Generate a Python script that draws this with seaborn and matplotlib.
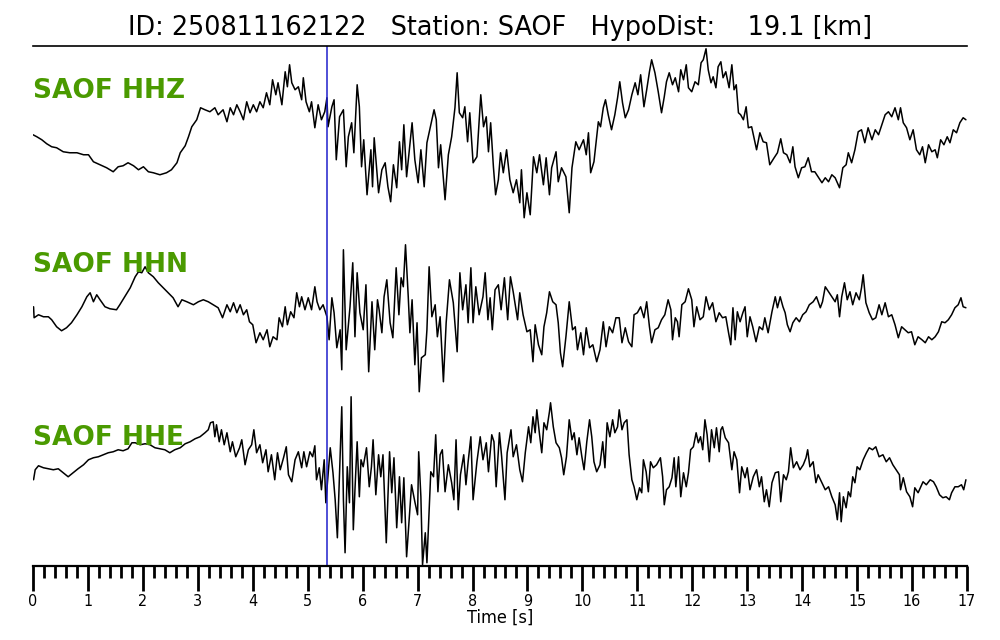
import numpy as np
import pandas as pd
import matplotlib
matplotlib.use("Agg")
import matplotlib.pyplot as plt
import seaborn as sns
from matplotlib.ticker import MultipleLocator

# ===== DATA =====
station = "SAOF"
event_id = "250811162122"
hypo_dist = 19.1
p_pick = 5.35  # s

hhz_t = [0.00, 0.07, 0.16, 0.25, 0.34, 0.43, 0.55, 0.67, 0.80, 0.92, 1.01, 1.10, 1.22, 1.34, 1.46, 1.55, 1.64, 1.73, 1.83, 1.92,
         2.01, 2.10, 2.19, 2.31, 2.43, 2.52, 2.62, 2.68, 2.77, 2.83, 2.89, 2.98, 3.05, 3.13, 3.22, 3.31, 3.37, 3.46, 3.53, 3.59,
         3.65, 3.71, 3.77, 3.83, 3.89, 3.95, 4.01, 4.07, 4.13, 4.19, 4.25, 4.31, 4.36, 4.42, 4.46, 4.53, 4.59, 4.63, 4.67, 4.71,
         4.77, 4.83, 4.89, 4.92, 4.97, 5.03, 5.07, 5.13, 5.19, 5.25, 5.31, 5.35, 5.37, 5.44, 5.48, 5.52, 5.58, 5.65, 5.70, 5.74,
         5.80, 5.84, 5.90, 5.94, 5.98, 6.02, 6.08, 6.15, 6.18, 6.21, 6.29, 6.35, 6.41, 6.46, 6.51, 6.56, 6.62, 6.67, 6.71, 6.75,
         6.80, 6.85, 6.90, 6.95, 7.01, 7.06, 7.12, 7.17, 7.24, 7.30, 7.34, 7.38, 7.42, 7.50, 7.56, 7.62, 7.68, 7.72, 7.76, 7.82,
         7.86, 7.91, 7.95, 8.01, 8.08, 8.15, 8.20, 8.25, 8.29, 8.33, 8.38, 8.42, 8.47, 8.51, 8.56, 8.62, 8.68, 8.74, 8.80, 8.86,
         8.89, 8.94, 8.99, 9.05, 9.11, 9.17, 9.22, 9.29, 9.34, 9.40, 9.44, 9.52, 9.56, 9.62, 9.70, 9.76, 9.81, 9.88, 9.94, 10.02,
         10.07, 10.11, 10.15, 10.21, 10.29, 10.33, 10.38, 10.42, 10.47, 10.53, 10.59, 10.64, 10.68, 10.73, 10.78, 10.84, 10.90, 10.96, 11.01, 11.06,
         11.12, 11.17, 11.22, 11.26, 11.32, 11.38, 11.44, 11.49, 11.53, 11.58, 11.64, 11.69, 11.75, 11.79, 11.84, 11.89, 11.93, 11.99, 12.05, 12.11,
         12.16, 12.20, 12.25, 12.29, 12.34, 12.38, 12.43, 12.47, 12.52, 12.56, 12.61, 12.67, 12.72, 12.76, 12.80, 12.84, 12.88, 12.93, 12.98, 13.02,
         13.08, 13.12, 13.17, 13.23, 13.29, 13.35, 13.41, 13.49, 13.55, 13.61, 13.66, 13.72, 13.78, 13.83, 13.87, 13.93, 13.99, 14.05, 14.11, 14.17,
         14.23, 14.29, 14.36, 14.42, 14.48, 14.54, 14.60, 14.68, 14.74, 14.80, 14.84, 14.90, 14.96, 15.02, 15.08, 15.14, 15.20, 15.27, 15.33, 15.39,
         15.45, 15.51, 15.57, 15.63, 15.69, 15.75, 15.79, 15.84, 15.90, 15.96, 16.02, 16.08, 16.14, 16.19, 16.24, 16.30, 16.36, 16.42, 16.46, 16.52,
         16.58, 16.64, 16.69, 16.75, 16.81, 16.87, 16.93, 16.98]
hhz_a = [-5, -7, -10, -14, -17, -18, -22, -23, -23, -25, -25, -32, -35, -38, -42, -37, -36, -33, -36, -40,
         -37, -42, -43, -45, -43, -40, -33, -23, -16, -7, 3, 10, 22, 20, 18, 22, 15, 20, 8, 22,
         15, 25, 18, 10, 28, 17, 25, 18, 28, 22, 37, 25, 50, 35, 47, 25, 58, 43, 65, 47,
         40, 43, 30, 52, 28, 18, 28, 2, 25, 10, 18, 32, 3, 23, 30, -30, 13, 20, -37, -7,
         7, -23, 45, 23, -37, -10, -65, -20, -57, -8, -63, -40, -33, -57, -72, -35, -58, -12, -40, 5,
         -47, -20, 7, -30, -53, -20, -57, -13, 5, 20, 10, -38, -15, -70, -25, -7, 22, 57, 17, 12,
         23, -12, 17, -33, -27, 35, 3, 13, -22, 7, -37, -65, -50, -23, -43, -20, -50, -63, -50, -73,
         -40, -88, -63, -85, -27, -43, -25, -55, -28, -65, -38, -22, -52, -38, -47, -83, -38, -12, -20, -10,
         -25, -3, -43, -32, 8, 3, 22, 30, 15, 0, 15, 32, 48, 27, 12, 20, 35, 47, 35, 55,
         23, 40, 58, 70, 57, 38, 17, 33, 48, 57, 45, 52, 38, 60, 50, 65, 42, 38, 48, 45,
         67, 70, 81, 60, 47, 53, 42, 63, 68, 52, 58, 42, 65, 40, 45, 17, 15, 10, 23, 2,
         3, -7, -20, -3, -12, -13, -35, -28, -23, -9, -23, -25, -33, -17, -37, -48, -38, -37, -28, -42,
         -42, -47, -53, -48, -52, -45, -48, -58, -38, -35, -23, -33, -20, -2, 0, -13, 2, -10, 0, -5,
         5, 15, 18, 13, 22, 10, 22, 7, 2, -10, 0, -20, -25, -17, -33, -15, -22, -20, -28, -10,
         -15, -7, -13, 0, -3, 7, 12, 10]

hhn_t = [0.01, 0.02, 0.10, 0.19, 0.28, 0.34, 0.43, 0.52, 0.61, 0.70, 0.80, 0.89, 0.98, 1.04, 1.10, 1.16, 1.22, 1.31, 1.40, 1.52,
         1.58, 1.67, 1.77, 1.86, 1.92, 1.98, 2.04, 2.10, 2.19, 2.28, 2.37, 2.46, 2.55, 2.64, 2.71, 2.80, 2.92, 3.01, 3.10, 3.19,
         3.28, 3.37, 3.45, 3.53, 3.59, 3.65, 3.71, 3.77, 3.83, 3.89, 3.94, 4.00, 4.06, 4.13, 4.19, 4.26, 4.31, 4.37, 4.44, 4.48,
         4.54, 4.59, 4.63, 4.69, 4.75, 4.80, 4.85, 4.89, 4.95, 5.01, 5.07, 5.13, 5.17, 5.22, 5.28, 5.35, 5.39, 5.44, 5.48, 5.53,
         5.59, 5.62, 5.65, 5.70, 5.77, 5.82, 5.86, 5.90, 5.95, 6.01, 6.06, 6.11, 6.17, 6.22, 6.27, 6.30, 6.35, 6.39, 6.44, 6.50,
         6.55, 6.61, 6.66, 6.70, 6.74, 6.78, 6.83, 6.86, 6.90, 6.95, 6.99, 7.03, 7.07, 7.14, 7.17, 7.21, 7.26, 7.32, 7.36, 7.41,
         7.47, 7.52, 7.58, 7.65, 7.72, 7.77, 7.82, 7.88, 7.92, 7.97, 8.01, 8.06, 8.12, 8.19, 8.23, 8.28, 8.32, 8.36, 8.41, 8.47,
         8.52, 8.58, 8.64, 8.69, 8.74, 8.82, 8.86, 8.92, 8.99, 9.05, 9.10, 9.14, 9.20, 9.26, 9.30, 9.35, 9.40, 9.46, 9.52, 9.56,
         9.60, 9.64, 9.70, 9.76, 9.82, 9.87, 9.91, 9.97, 10.02, 10.07, 10.13, 10.19, 10.26, 10.32, 10.38, 10.43, 10.49, 10.55, 10.61, 10.67,
         10.72, 10.78, 10.84, 10.90, 10.94, 11.00, 11.06, 11.12, 11.17, 11.22, 11.26, 11.32, 11.38, 11.44, 11.50, 11.56, 11.61, 11.64, 11.69, 11.73,
         11.76, 11.81, 11.87, 11.93, 11.99, 12.03, 12.08, 12.14, 12.20, 12.25, 12.31, 12.37, 12.43, 12.49, 12.55, 12.61, 12.66, 12.70, 12.74, 12.78,
         12.82, 12.87, 12.92, 12.96, 13.00, 13.05, 13.10, 13.16, 13.22, 13.28, 13.32, 13.38, 13.45, 13.51, 13.55, 13.60, 13.65, 13.69, 13.73, 13.78,
         13.83, 13.89, 13.95, 14.01, 14.07, 14.13, 14.20, 14.26, 14.33, 14.37, 14.42, 14.48, 14.54, 14.60, 14.64, 14.68, 14.72, 14.77, 14.82, 14.87,
         14.92, 14.98, 15.04, 15.08, 15.11, 15.16, 15.22, 15.28, 15.34, 15.40, 15.45, 15.51, 15.57, 15.63, 15.69, 15.75, 15.81, 15.87, 15.93, 15.99,
         16.05, 16.11, 16.18, 16.24, 16.30, 16.36, 16.42, 16.48, 16.54, 16.60, 16.66, 16.72, 16.78, 16.84, 16.89, 16.93, 16.98]
hhn_a = [3, -8, -5, -7, -7, -10, -17, -21, -18, -13, -5, 3, 13, 17, 8, 15, 10, 3, 1, 0,
         5, 13, 22, 33, 38, 37, 43, 37, 33, 27, 22, 17, 12, 3, 10, 8, 5, 8, 10, 8,
         5, 2, -8, 5, -2, 7, -3, 5, -5, 0, -12, -15, -33, -23, -30, -20, -37, -27, -30, -8,
         -17, 3, -15, -2, -8, 17, 3, 13, 0, 12, 0, 23, 8, 0, 5, -7, -30, 12, -3, -38,
         -20, -60, 60, -40, 3, 47, -27, 37, -3, -20, 25, -62, 8, -40, 10, 0, -23, 13, 30, -13,
         -28, 42, -5, 32, 23, 65, 13, -23, 10, -55, -13, -82, -48, -45, -20, 43, -7, 5, -27, -7,
         -72, -13, 30, 7, -42, 37, 0, 25, -13, 42, -13, 23, -5, 13, 37, -10, 12, -20, 20, 25,
         0, 32, -10, 33, 18, -10, 17, -5, -22, -20, -52, -15, -35, -45, -17, -3, 18, 8, 5, -13,
         -43, -57, -27, 8, -20, -17, -40, -23, -45, -18, -38, -35, -52, -40, -12, -37, -17, -23, -8, -8,
         -33, -18, -32, -37, -5, -3, 3, -8, 8, -17, -33, -20, -18, -10, -5, 10, 0, -30, -8, -12,
         -27, 5, 8, 21, 10, -17, 3, -10, -7, 13, 0, 7, -12, -3, -8, -7, -23, -35, 2, -30,
         -2, -12, -3, 3, -27, -7, -17, -32, -17, -20, -8, -23, -2, 13, 2, 13, 3, -3, -15, -22,
         -13, -8, -12, -5, -2, 5, 8, 13, 2, 8, 23, 18, 13, 8, 15, -7, 13, 27, 10, 18,
         5, 17, 10, 22, 35, 7, -3, -10, -8, 5, -5, 7, -7, -5, -15, -28, -17, -20, -23, -22,
         -35, -27, -30, -33, -27, -30, -27, -22, -12, -13, -10, -5, 2, 5, 12, 3, 2]

hhe_t = [0.01, 0.04, 0.10, 0.19, 0.28, 0.37, 0.46, 0.55, 0.64, 0.73, 0.82, 0.92, 1.01, 1.10, 1.19, 1.28, 1.37, 1.46, 1.55, 1.64,
         1.73, 1.80, 1.86, 1.95, 2.04, 2.13, 2.22, 2.31, 2.40, 2.49, 2.58, 2.68, 2.77, 2.86, 2.95, 3.04, 3.13, 3.19, 3.23, 3.28,
         3.31, 3.34, 3.39, 3.43, 3.48, 3.53, 3.59, 3.63, 3.69, 3.76, 3.80, 3.86, 3.92, 3.98, 4.02, 4.07, 4.13, 4.18, 4.24, 4.28,
         4.34, 4.40, 4.45, 4.50, 4.56, 4.61, 4.65, 4.71, 4.77, 4.83, 4.89, 4.93, 4.98, 5.04, 5.09, 5.13, 5.16, 5.21, 5.25, 5.30,
         5.33, 5.37, 5.41, 5.46, 5.50, 5.54, 5.58, 5.62, 5.65, 5.68, 5.72, 5.76, 5.79, 5.83, 5.86, 5.90, 5.94, 5.97, 6.01, 6.07,
         6.12, 6.16, 6.19, 6.24, 6.29, 6.33, 6.37, 6.43, 6.49, 6.53, 6.57, 6.62, 6.67, 6.71, 6.75, 6.80, 6.85, 6.89, 6.95, 7.00,
         7.02, 7.06, 7.09, 7.14, 7.17, 7.24, 7.29, 7.33, 7.37, 7.41, 7.45, 7.50, 7.56, 7.62, 7.66, 7.70, 7.74, 7.78, 7.84, 7.88,
         7.92, 7.97, 8.01, 8.08, 8.14, 8.19, 8.25, 8.29, 8.35, 8.39, 8.43, 8.49, 8.53, 8.59, 8.63, 8.70, 8.74, 8.80, 8.86, 8.91,
         8.96, 9.02, 9.06, 9.10, 9.14, 9.17, 9.22, 9.26, 9.30, 9.35, 9.40, 9.42, 9.47, 9.52, 9.58, 9.62, 9.66, 9.71, 9.76, 9.81,
         9.85, 9.90, 9.94, 9.99, 10.03, 10.08, 10.13, 10.17, 10.21, 10.26, 10.32, 10.37, 10.41, 10.45, 10.50, 10.55, 10.59, 10.64, 10.67, 10.72,
         10.76, 10.81, 10.85, 10.90, 10.94, 10.99, 11.04, 11.08, 11.11, 11.16, 11.20, 11.24, 11.29, 11.35, 11.38, 11.42, 11.46, 11.49, 11.53, 11.58,
         11.63, 11.67, 11.70, 11.75, 11.79, 11.84, 11.89, 11.93, 11.97, 12.02, 12.07, 12.11, 12.15, 12.19, 12.23, 12.27, 12.31, 12.35, 12.40, 12.44,
         12.49, 12.52, 12.55, 12.60, 12.66, 12.72, 12.76, 12.81, 12.86, 12.90, 12.96, 13.00, 13.05, 13.11, 13.17, 13.22, 13.26, 13.31, 13.35, 13.40,
         13.45, 13.51, 13.57, 13.61, 13.66, 13.71, 13.75, 13.79, 13.84, 13.90, 13.96, 14.02, 14.07, 14.10, 14.14, 14.20, 14.25, 14.29, 14.36, 14.42,
         14.48, 14.54, 14.60, 14.64, 14.68, 14.71, 14.75, 14.80, 14.84, 14.88, 14.92, 14.96, 15.00, 15.05, 15.11, 15.17, 15.22, 15.28, 15.34, 15.40,
         15.47, 15.53, 15.59, 15.65, 15.71, 15.77, 15.79, 15.84, 15.90, 15.96, 16.01, 16.05, 16.11, 16.16, 16.20, 16.26, 16.33, 16.39, 16.44, 16.50,
         16.56, 16.62, 16.68, 16.72, 16.78, 16.84, 16.90, 16.94, 16.98]
hhe_a = [-10, 0, 4, 2, 1, 0, 1, -3, -7, -3, 1, 5, 10, 12, 13, 15, 17, 18, 20, 19,
         21, 27, 27, 25, 26, 25, 22, 21, 20, 17, 20, 22, 26, 28, 31, 33, 37, 40, 47, 48,
         33, 45, 28, 40, 25, 37, 18, 28, 13, 22, 30, 5, 20, 25, 40, 17, 25, 7, 20, -2,
         15, -10, 17, 0, 12, 23, -5, -12, 10, 18, 2, 18, 3, 18, 13, 24, -10, 2, -20, 10,
         -33, -5, 22, -3, -30, -68, -3, 63, -30, -83, 3, -33, 73, -60, -20, 28, -27, 10, 3, 22,
         -17, 3, 30, -25, 15, -7, 15, -73, 18, -23, 12, -58, -7, -53, -8, -87, -47, -15, -32, -45,
         18, -27, -95, -63, -93, -2, -7, 35, -22, 15, 20, -22, 5, -13, -30, 30, -40, -5, 15, -15,
         8, 33, -30, 8, 33, 10, 27, -2, 35, 28, -17, 37, 13, -30, 17, 40, 13, 25, 0, -12,
         17, 43, 27, 53, 37, 60, 35, 17, 47, 40, 58, 67, 43, 27, 22, 12, -5, 13, 50, 30,
         37, 15, 32, 13, 0, 28, 50, 33, 8, -2, 5, 28, 2, 47, 33, 50, 37, 43, 60, 40,
         47, 50, 15, -10, -17, -30, -18, -23, 10, -2, -22, 8, 2, 5, 8, 12, -7, -35, -20, -17,
         -8, 12, -17, 13, -27, -3, -17, -3, 20, 23, 37, 27, 33, 20, 50, 35, 8, 40, 22, 42,
         18, 40, 43, 32, 27, 0, 18, 10, -23, 3, -8, 2, -20, -7, 0, -17, -7, -32, -20, -37,
         -13, -3, -2, -32, -5, -10, -2, 22, 2, 8, 0, 5, 12, 20, 3, 8, -13, -5, -13, -20,
         -17, -27, -35, -50, -23, -52, -27, -38, -22, -27, -7, -13, 3, 0, 10, 17, 22, 20, 23, 13,
         15, 8, 12, 5, 0, -5, -20, -8, -22, -27, -37, -18, -23, -17, -12, -15, -10, -12, -17, -25,
         -28, -27, -30, -23, -17, -17, -15, -20, -10]

channels = ["HHZ", "HHN", "HHE"]
traces = [(hhz_t, hhz_a), (hhn_t, hhn_a), (hhe_t, hhe_a)]

# ===== PLOT =====
sns.set_style("white", {"text.color": "black", "axes.labelcolor": "black",
                        "xtick.color": "black", "axes.edgecolor": "black"})
plt.rcParams['font.family'] = ['DejaVu Sans']

fig = plt.figure(figsize=(10, 6.4), dpi=100)
ax = fig.add_axes([0.033, 0.116, 0.934, 0.8125])

offsets = [436, 256, 96]      # vertical stacking of the traces
label_shift = [39, 45, 32]
for (t, a), ch, off, ls in zip(traces, channels, offsets, label_shift):
    df = pd.DataFrame({"time": t, "amp": np.array(a) + off})
    sns.lineplot(data=df, x="time", y="amp", ax=ax, color="black", lw=1.1,
                 estimator=None, sort=False)
    ax.text(0, off + ls, f"{station} {ch}", color="#4a9a00", fontsize=19,
            fontweight="bold", va="center", ha="left")

ax.axvline(p_pick, color="#1f1fcc", lw=1.1)

ax.set_xlim(0, 17)
ax.set_ylim(0, 520)
ax.set_ylabel("")
ax.set_yticks([])
ax.xaxis.set_major_locator(MultipleLocator(1))
ax.xaxis.set_minor_locator(MultipleLocator(0.2))
ax.tick_params(axis="x", which="major", length=18, width=2, direction="out",
               labelsize=11.5, pad=2, bottom=True, colors="black")
ax.tick_params(axis="x", which="minor", length=8.5, width=2, direction="out", bottom=True)
for lab in ax.get_xticklabels():
    lab.set_fontstretch("condensed")

for side in ["left", "right"]:
    ax.spines[side].set_visible(False)
ax.spines["bottom"].set_linewidth(1.6)
ax.spines["top"].set_linewidth(1.2)

ax.set_xlabel("Time [s]", fontsize=13, labelpad=0, fontstretch="condensed", color="black")
ax.set_title(f"ID: {event_id}   Station: {station}   HypoDist:    {hypo_dist} [km]",
             fontsize=18.4, pad=8, color="black")

fig.savefig("out.png", dpi=100)
